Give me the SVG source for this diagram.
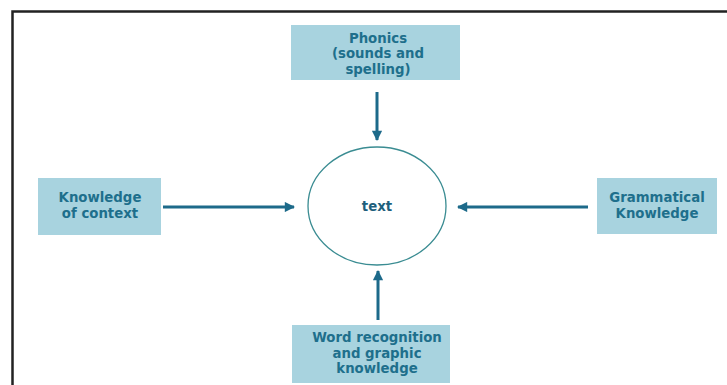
<svg xmlns="http://www.w3.org/2000/svg" width="727" height="385" viewBox="0 0 727 385">
<style>
.box{fill:#a8d3df}
.lbl{font-family:"DejaVu Sans","Open Sans",sans-serif;font-weight:bold;font-size:13.3px;fill:#1e6f8c;text-anchor:middle}
.conn{stroke:#1d6a8a;stroke-width:3;fill:none;marker-end:url(#ah)}
</style>
<defs>
<marker id="ah" viewBox="0 0 10 10" refX="9" refY="5" markerWidth="4" markerHeight="3.4" orient="auto" markerUnits="strokeWidth">
<path d="M0,0 L10,5 L0,10 Z" fill="#1d6a8a"/>
</marker>
</defs>
<rect width="727" height="385" fill="#ffffff"/>
<path d="M12.5,385 V11.5 H727" fill="none" stroke="#222" stroke-width="2.5"/>
<g id="phonics">
<rect class="box" x="291" y="25" width="169" height="55"/>
<text class="lbl" x="378" y="42.5">Phonics</text>
<text class="lbl" x="378" y="58">(sounds and</text>
<text class="lbl" x="378" y="73.5">spelling)</text>
</g>
<g id="context">
<rect class="box" x="38" y="178" width="123" height="57"/>
<text class="lbl" x="100" y="202">Knowledge</text>
<text class="lbl" x="100" y="218">of context</text>
</g>
<g id="grammar">
<rect class="box" x="597" y="178" width="120" height="56"/>
<text class="lbl" x="657" y="202">Grammatical</text>
<text class="lbl" x="657" y="218">Knowledge</text>
</g>
<g id="word">
<rect class="box" x="292" y="325" width="158" height="58"/>
<text class="lbl" x="377" y="342">Word recognition</text>
<text class="lbl" x="377" y="357.5">and graphic</text>
<text class="lbl" x="377" y="373">knowledge</text>
</g>
<g id="text-node">
<ellipse cx="377" cy="206" rx="69" ry="59" fill="#ffffff" stroke="#3a8c92" stroke-width="1.3"/>
<text class="lbl" x="377" y="211" style="fill:#1e5f7c">text</text>
</g>
<g id="connectors">
<line class="conn" x1="377" y1="92" x2="377" y2="140"/>
<line class="conn" x1="163" y1="207" x2="294" y2="207"/>
<line class="conn" x1="588" y1="207" x2="458" y2="207"/>
<line class="conn" x1="378" y1="320" x2="378" y2="271"/>
</g>
</svg>
